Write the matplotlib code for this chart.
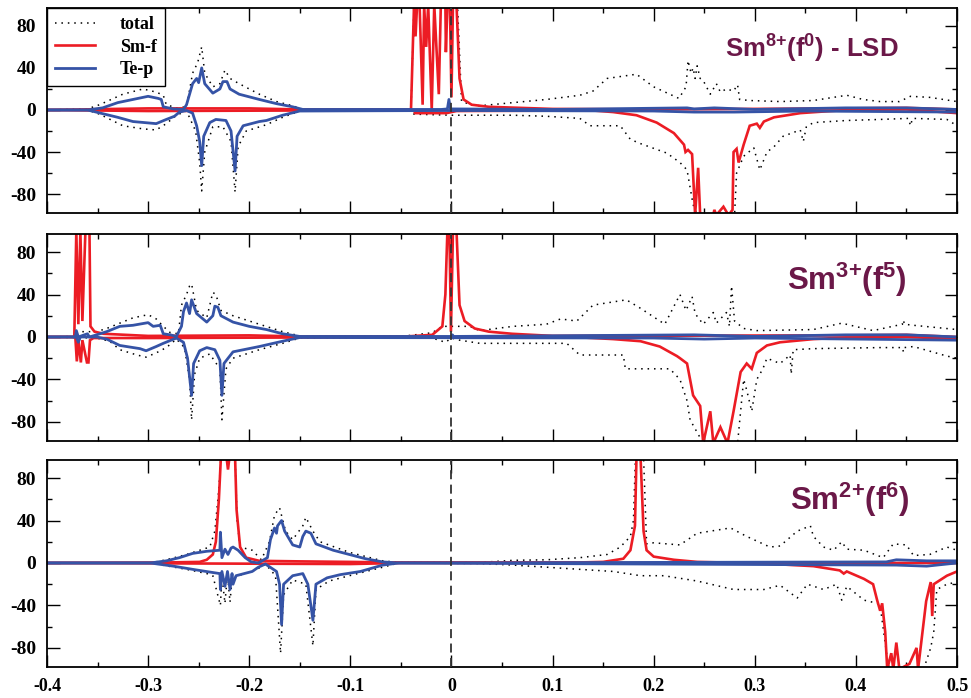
import matplotlib
matplotlib.use("Agg")
import matplotlib.pyplot as plt
from matplotlib.lines import Line2D
from matplotlib.ticker import MultipleLocator

# ---------------- data: spin-resolved DOS (up > 0, down < 0), energy in Ry ----------------
# Panel 1: Sm 8+ (f0) - LSD
p1_total_up = [(-0.40, 0), (-0.36, 1), (-0.348, 5), (-0.325, 15), (-0.305, 20), (-0.292, 17), (-0.285, 14),
               (-0.282, 5), (-0.272, 2), (-0.262, 3), (-0.256, 35), (-0.251, 45), (-0.247, 60), (-0.244, 35),
               (-0.236, 22), (-0.229, 25), (-0.224, 38), (-0.219, 30), (-0.21, 25), (-0.19, 15), (-0.173, 8),
               (-0.157, 4), (-0.147, 0.5), (-0.04, 0.5), (-0.037, 100), (0.006, 100), (0.01, 8), (0.02, 5),
               (0.028, 4), (0.061, 7), (0.094, 10), (0.127, 14), (0.14, 18), (0.154, 30), (0.183, 34), (0.2, 22),
               (0.225, 11), (0.232, 22), (0.234, 47), (0.237, 35), (0.239, 40), (0.241, 30), (0.243, 42),
               (0.246, 30), (0.249, 28), (0.256, 15), (0.262, 25), (0.266, 17), (0.272, 20), (0.279, 18),
               (0.283, 24), (0.285, 10), (0.295, 9), (0.325, 8), (0.358, 9), (0.391, 14), (0.407, 10),
               (0.424, 8), (0.443, 8), (0.454, 13), (0.473, 12), (0.5, 8)]
p1_total_dn = [(-0.40, 0), (-0.36, 0), (-0.348, -4), (-0.325, -15), (-0.305, -18), (-0.292, -19), (-0.282, -13),
               (-0.272, -5), (-0.262, -1), (-0.253, -20), (-0.249, -50), (-0.247, -77), (-0.244, -40),
               (-0.236, -16), (-0.226, -16), (-0.218, -30), (-0.214, -78), (-0.211, -35), (-0.203, -20),
               (-0.183, -14), (-0.167, -7), (-0.15, -1), (-0.04, -0.5), (-0.037, -4), (0.0, -5), (0.028, -5),
               (0.061, -5), (0.094, -6), (0.127, -8), (0.137, -15), (0.167, -15), (0.177, -28), (0.187, -32),
               (0.213, -41), (0.226, -50), (0.233, -57), (0.239, -90), (0.243, -100), (0.28, -100), (0.282, -60),
               (0.289, -44), (0.299, -36), (0.305, -57), (0.312, -40), (0.319, -35), (0.328, -25), (0.345, -19),
               (0.348, -30), (0.351, -16), (0.358, -12), (0.391, -10), (0.424, -9), (0.452, -8), (0.454, -15),
               (0.456, -8), (0.490, -9), (0.5, -15)]
p1_smf_up = [(-0.40, 0), (-0.30, 1.5), (-0.2, 1.5), (-0.15, 0.5), (-0.04, 0.5), (-0.037, 100), (-0.0355, 70),
             (-0.034, 100), (-0.0315, 100), (-0.0285, 5), (-0.027, 100), (-0.025, 60), (-0.023, 100),
             (-0.0195, 0), (-0.017, 100), (-0.0125, 15), (-0.0105, 100), (-0.006, 100), (-0.0055, 55),
             (-0.004, 100), (-0.0015, 100), (0.0, 12), (0.0015, 100), (0.005, 100), (0.008, 30), (0.012, 10),
             (0.02, 5), (0.037, 3), (0.1, 1), (0.2, 0.5), (0.39, 1.5), (0.45, 2), (0.5, 0.5)]
p1_smf_dn = [(-0.40, 0), (-0.3, -1), (-0.15, -0.5), (-0.037, -0.5), (-0.036, -3), (-0.005, -3), (0.005, -1),
             (0.14, -0.5), (0.16, -2), (0.183, -5), (0.203, -12), (0.22, -22), (0.23, -33), (0.2315, -40),
             (0.234, -38), (0.238, -42), (0.241, -100), (0.244, -55), (0.246, -100), (0.259, -100),
             (0.260, -95), (0.262, -100), (0.269, -92), (0.274, -100), (0.278, -95), (0.279, -40),
             (0.282, -37), (0.284, -50), (0.289, -33), (0.295, -15), (0.302, -13), (0.305, -17), (0.309, -11),
             (0.319, -7), (0.332, -5), (0.345, -3), (0.36, -2), (0.391, 0), (0.45, 0.5), (0.5, -3)]
p1_tep_up = [(-0.40, 0), (-0.36, 0), (-0.345, 2), (-0.33, 7), (-0.315, 10), (-0.30, 13), (-0.29, 11),
             (-0.287, 10), (-0.285, 3), (-0.275, 1), (-0.265, 0.5), (-0.262, 5), (-0.256, 25), (-0.252, 30),
             (-0.250, 26), (-0.247, 40), (-0.244, 25), (-0.236, 16), (-0.229, 20), (-0.226, 27), (-0.222, 27),
             (-0.219, 20), (-0.21, 15), (-0.19, 10), (-0.173, 6), (-0.157, 3), (-0.147, 0.5), (-0.01, 0.5),
             (-0.004, 1), (-0.0025, 10), (-0.001, 1), (0.1, 0.5), (0.233, 2), (0.24, 1), (0.26, 2), (0.3, 0.5),
             (0.39, 2), (0.45, 2), (0.5, 0.5)]
p1_tep_dn = [(-0.40, 0), (-0.36, 0), (-0.33, -7), (-0.315, -11), (-0.292, -13), (-0.282, -9), (-0.274, -6),
             (-0.269, -2), (-0.262, -0.5), (-0.256, -3), (-0.252, -15), (-0.249, -30), (-0.247, -53),
             (-0.245, -25), (-0.239, -12), (-0.233, -9), (-0.223, -10), (-0.218, -20), (-0.214, -58),
             (-0.212, -25), (-0.206, -15), (-0.19, -11), (-0.183, -10), (-0.167, -5), (-0.15, -1), (0.0, -0.5),
             (0.2, -1), (0.24, -2), (0.28, -2), (0.35, -1), (0.5, -2)]

# Panel 2: Sm 3+ (f5)
p2_total_up = [(-0.40, 0), (-0.372, 0.5), (-0.370, 5), (-0.351, 5), (-0.341, 8), (-0.315, 18), (-0.300, 21),
               (-0.292, 17), (-0.285, 10), (-0.278, 4), (-0.270, 3), (-0.267, 30), (-0.262, 40), (-0.259, 48),
               (-0.257, 50), (-0.252, 25), (-0.242, 18), (-0.236, 42), (-0.233, 40), (-0.228, 25), (-0.216, 20),
               (-0.19, 12), (-0.167, 5), (-0.15, 1), (-0.045, 1), (-0.019, 4), (-0.009, 10), (0.018, 10),
               (0.028, 6), (0.061, 10), (0.094, 12), (0.108, 17), (0.124, 15), (0.14, 30), (0.173, 35),
               (0.187, 27), (0.211, 12), (0.226, 40), (0.232, 25), (0.238, 38), (0.241, 22), (0.249, 12),
               (0.259, 23), (0.262, 13), (0.272, 23), (0.275, 10), (0.277, 48), (0.280, 15), (0.289, 8),
               (0.302, 6), (0.358, 7), (0.386, 13), (0.417, 6), (0.446, 12), (0.447, 16), (0.448, 12),
               (0.457, 11), (0.5, 7)]
p2_total_dn = [(-0.40, 0), (-0.351, -1), (-0.338, -4), (-0.328, -12), (-0.311, -17), (-0.302, -19),
               (-0.292, -15), (-0.282, -10), (-0.272, -2), (-0.264, -10), (-0.259, -40), (-0.257, -78),
               (-0.254, -35), (-0.249, -20), (-0.239, -16), (-0.229, -30), (-0.227, -78), (-0.223, -30),
               (-0.216, -20), (-0.19, -12), (-0.167, -6), (-0.15, -1), (-0.019, -1), (-0.006, -5), (0.0, -1),
               (0.008, -3), (0.028, -6), (0.114, -6), (0.127, -17), (0.170, -17), (0.172, -30), (0.216, -30),
               (0.226, -40), (0.233, -60), (0.236, -78), (0.246, -95), (0.25, -100), (0.283, -100),
               (0.286, -70), (0.289, -40), (0.292, -50), (0.297, -70), (0.302, -40), (0.308, -30),
               (0.312, -20), (0.325, -25), (0.335, -17), (0.336, -35), (0.338, -12), (0.358, -11),
               (0.424, -10), (0.446, -10), (0.447, -14), (0.448, -10), (0.457, -9), (0.49, -18), (0.5, -20)]
p2_smf_up = [(-0.40, 0), (-0.373, 0), (-0.371, 100), (-0.369, 12), (-0.367, 100), (-0.365, 15), (-0.362, 100),
             (-0.358, 100), (-0.357, 10), (-0.353, 5), (-0.344, 3), (-0.30, 1), (-0.2, 1.5), (-0.15, 0.5),
             (-0.045, 0.5), (-0.019, 2), (-0.009, 10), (-0.006, 40), (-0.004, 100), (-0.002, 100),
             (-0.0005, 5), (0.0015, 100), (0.005, 100), (0.008, 30), (0.013, 15), (0.023, 8), (0.037, 5),
             (0.06, 3), (0.1, 1), (0.39, 1.5), (0.45, 2), (0.5, 0)]
p2_smf_dn = [(-0.40, 0), (-0.372, 0), (-0.3705, -23), (-0.369, -3), (-0.3665, -24), (-0.365, -3),
             (-0.3605, -24), (-0.359, -24), (-0.3575, -3), (-0.354, -1), (-0.3, -1), (-0.15, -0.5), (0.0, -0.5),
             (0.13, -0.5), (0.160, -2), (0.187, -4), (0.206, -9), (0.223, -18), (0.226, -20), (0.233, -25),
             (0.236, -40), (0.239, -55), (0.246, -65), (0.249, -100), (0.256, -70), (0.259, -100),
             (0.266, -85), (0.273, -100), (0.279, -70), (0.286, -33), (0.292, -25), (0.297, -30), (0.302, -15),
             (0.312, -8), (0.325, -5), (0.358, -2), (0.39, -0.5), (0.45, 0), (0.5, -2)]
p2_tep_up = [(-0.40, 0), (-0.372, 0), (-0.371, 6), (-0.369, 0), (-0.360, 3), (-0.358, 0), (-0.351, 2),
             (-0.341, 5), (-0.328, 10), (-0.315, 11), (-0.300, 13.5), (-0.295, 10), (-0.288, 11), (-0.285, 3),
             (-0.278, 2), (-0.272, 0.5), (-0.267, 10), (-0.265, 24), (-0.262, 32), (-0.259, 22), (-0.257, 35),
             (-0.252, 22), (-0.242, 14), (-0.236, 20), (-0.234, 29), (-0.231, 28), (-0.228, 20), (-0.216, 14),
             (-0.2, 10), (-0.183, 7), (-0.167, 3), (-0.15, 0.5), (0.0, 0.5), (0.001, 2), (0.002, 0.5),
             (0.24, 2), (0.26, 1.5), (0.3, 0.5), (0.39, 2), (0.45, 2), (0.5, 0)]
p2_tep_dn = [(-0.40, 0), (-0.371, 0), (-0.369, -5), (-0.367, 0), (-0.351, 0), (-0.341, -2), (-0.328, -8),
             (-0.308, -11), (-0.302, -13), (-0.292, -9), (-0.285, -6), (-0.272, -1), (-0.265, -5),
             (-0.261, -20), (-0.257, -55), (-0.255, -25), (-0.249, -13), (-0.242, -10), (-0.234, -12),
             (-0.229, -22), (-0.227, -55), (-0.225, -25), (-0.216, -14), (-0.19, -9), (-0.167, -4),
             (-0.15, -0.5), (0.2, -1), (0.25, -2), (0.3, -1), (0.5, -3)]

# Panel 3: Sm 2+ (f6)
p3_total_up = [(-0.40, 0), (-0.298, 0), (-0.282, 3), (-0.262, 8), (-0.239, 15), (-0.234, 30), (-0.230, 70),
               (-0.228, 100), (-0.214, 100), (-0.212, 40), (-0.209, 15), (-0.197, 12), (-0.188, 3),
               (-0.180, 20), (-0.175, 45), (-0.170, 52), (-0.164, 30), (-0.157, 22), (-0.147, 35),
               (-0.144, 43), (-0.137, 30), (-0.130, 20), (-0.101, 10), (-0.068, 2), (-0.052, 0.5), (0.028, 0.5),
               (0.061, 2.5), (0.094, 3), (0.127, 5), (0.154, 8), (0.167, 15), (0.177, 25), (0.180, 40),
               (0.182, 100), (0.190, 100), (0.193, 18), (0.2, 19), (0.226, 17), (0.243, 28), (0.276, 33),
               (0.292, 25), (0.315, 15), (0.325, 16), (0.342, 30), (0.355, 35), (0.358, 25), (0.368, 15),
               (0.378, 12), (0.386, 20), (0.391, 13), (0.408, 12), (0.427, 5), (0.437, 18), (0.45, 17),
               (0.457, 7), (0.473, 8), (0.49, 15), (0.5, 12)]
p3_total_dn = [(-0.40, 0), (-0.298, 0), (-0.262, -6), (-0.242, -10), (-0.236, -12), (-0.2285, -40),
               (-0.227, -12), (-0.224, -38), (-0.2215, -10), (-0.219, -37), (-0.217, -15), (-0.211, -12),
               (-0.194, -7), (-0.184, -1), (-0.174, -12), (-0.169, -85), (-0.166, -30), (-0.157, -16),
               (-0.144, -20), (-0.137, -78), (-0.134, -25), (-0.121, -17), (-0.101, -12), (-0.068, -4),
               (-0.052, 0), (0.028, -0.5), (0.061, -2), (0.094, -4), (0.127, -6), (0.160, -8), (0.187, -12),
               (0.21, -12), (0.243, -17), (0.279, -25), (0.309, -25), (0.325, -21), (0.342, -33), (0.352, -20),
               (0.368, -25), (0.381, -20), (0.386, -35), (0.391, -22), (0.408, -35), (0.421, -38), (0.424, -40),
               (0.431, -90), (0.433, -100), (0.467, -100), (0.474, -80), (0.477, -65), (0.480, -25),
               (0.49, -20), (0.5, -18)]
p3_smf_up = [(-0.40, 0), (-0.28, 0.5), (-0.249, 1), (-0.242, 3), (-0.236, 8), (-0.233, 20), (-0.230, 60),
             (-0.228, 100), (-0.2225, 100), (-0.221, 88), (-0.2195, 100), (-0.214, 100), (-0.2125, 50),
             (-0.209, 15), (-0.203, 5), (-0.190, 2), (-0.15, 1.5), (-0.1, 1), (-0.06, 0.5), (0.127, 0.5),
             (0.15, 1), (0.17, 4), (0.177, 12), (0.1815, 35), (0.183, 100), (0.187, 100), (0.190, 30),
             (0.193, 12), (0.2, 6), (0.22, 3), (0.243, 1), (0.292, 0), (0.5, 0)]
p3_smf_dn = [(-0.40, 0), (-0.25, -0.5), (-0.1, -1), (-0.05, 0), (0.3, 0), (0.338, -2), (0.358, -3),
             (0.384, -7), (0.388, -10), (0.391, -8), (0.408, -15), (0.417, -20), (0.421, -35), (0.424, -45),
             (0.426, -38), (0.429, -65), (0.431, -100), (0.435, -85), (0.437, -100), (0.440, -75),
             (0.443, -100), (0.453, -95), (0.460, -80), (0.4615, -100), (0.4695, -36), (0.474, -18),
             (0.4755, -50), (0.477, -20), (0.490, -12), (0.5, -8)]
p3_tep_up = [(-0.40, 0), (-0.298, 0), (-0.282, 2), (-0.269, 5), (-0.256, 9), (-0.242, 11), (-0.229, 12),
             (-0.2285, 29), (-0.227, 5), (-0.224, 13), (-0.221, 8), (-0.218, 14), (-0.216, 15), (-0.211, 12),
             (-0.204, 5), (-0.198, 1), (-0.191, 0), (-0.182, 5), (-0.179, 22), (-0.175, 33), (-0.173, 28),
             (-0.172, 35), (-0.168, 40), (-0.165, 30), (-0.157, 17), (-0.150, 15), (-0.147, 25), (-0.144, 30),
             (-0.139, 28), (-0.134, 18), (-0.117, 12), (-0.101, 8), (-0.085, 4), (-0.068, 1), (-0.052, 0),
             (0.43, 1), (0.44, 3), (0.47, 2), (0.5, 2)]
p3_tep_dn = [(-0.40, 0), (-0.298, 0), (-0.275, -3), (-0.256, -6), (-0.236, -9), (-0.229, -10),
             (-0.2285, -25), (-0.227, -8), (-0.224, -22), (-0.2215, -8), (-0.219, -25), (-0.217, -10),
             (-0.216, -20), (-0.213, -12), (-0.197, -8), (-0.191, -4), (-0.184, -1), (-0.173, -8),
             (-0.170, -20), (-0.168, -58), (-0.166, -20), (-0.157, -12), (-0.147, -10), (-0.142, -20),
             (-0.137, -54), (-0.134, -20), (-0.123, -14), (-0.11, -11), (-0.09, -8), (-0.068, -2),
             (-0.052, 0), (0.44, -2), (0.47, -3), (0.5, 0)]

panel_titles = [r"Sm$^{8{+}}$(f$^{0}$) - LSD", r"Sm$^{3{+}}$(f$^{5}$)", r"Sm$^{2{+}}$(f$^{6}$)"]
legend_labels = ["total", "Sm-f", "Te-p"]
x_ticks = [-0.4, -0.3, -0.2, -0.1, 0, 0.1, 0.2, 0.3, 0.4, 0.5]
x_tick_labels = ["-0.4", "-0.3", "-0.2", "-0.1", "0", "0.1", "0.2", "0.3", "0.4", "0.5"]
y_ticks = [-80, -40, 0, 40, 80]

panels = [
    (p1_total_up, p1_total_dn, p1_smf_up, p1_smf_dn, p1_tep_up, p1_tep_dn),
    (p2_total_up, p2_total_dn, p2_smf_up, p2_smf_dn, p2_tep_up, p2_tep_dn),
    (p3_total_up, p3_total_dn, p3_smf_up, p3_smf_dn, p3_tep_up, p3_tep_dn),
]

# ---------------- styling ----------------
plt.rcParams["mathtext.default"] = "regular"
RED = "#ec1c24"
BLUE = "#3553a6"
TITLE_COLOR = "#6b1848"
ytick_font = dict(family="Liberation Serif", weight="bold", size=14)
xtick_font = dict(family="Liberation Serif", weight="bold", size=13)

fig = plt.figure(figsize=(9.71, 6.98), dpi=100)
W, H = 971.0, 698.0
boxes = [(8, 213), (234, 441), (460, 667)]
left_px, right_px = 47, 957
title_pos = [(0.745, 0.756, 18.5), (0.813, 0.729, 22.5), (0.816, 0.758, 22.5)]


def xy(points):
    return [p[0] for p in points], [p[1] for p in points]


for i, (top, bot) in enumerate(boxes):
    ax = fig.add_axes([left_px / W, 1 - bot / H, (right_px - left_px) / W, (bot - top) / H])
    tot_up, tot_dn, f_up, f_dn, p_up, p_dn = panels[i]

    for curve in (tot_up, tot_dn):
        ax.plot(*xy(curve), color="black", lw=1.1, ls=(0, (1, 3.2)))
    for curve in (f_up, f_dn):
        ax.plot(*xy(curve), color=RED, lw=1.9, solid_joinstyle="miter")
    for curve in (p_up, p_dn):
        ax.plot(*xy(curve), color=BLUE, lw=2.0)

    ax.axvline(0, color="#333333", lw=1.3, ls=(0, (5, 3)), zorder=5)

    ax.set_xlim(-0.4, 0.5)
    ax.set_ylim(-98, 97)
    ax.set_xticks(x_ticks)
    ax.xaxis.set_minor_locator(MultipleLocator(0.05))
    ax.set_yticks(y_ticks)
    ax.yaxis.set_minor_locator(MultipleLocator(20))
    ax.tick_params(which="both", direction="in", top=True, right=True, width=1.0, color="black")
    ax.tick_params(which="major", length=9)
    ax.tick_params(which="minor", length=3.5)
    ax.tick_params(axis="y", which="major", pad=8)
    ax.tick_params(axis="x", which="major", pad=8)
    for s in ax.spines.values():
        s.set_linewidth(1.3)

    ax.set_yticklabels([str(v) for v in y_ticks], fontdict=ytick_font)
    if i == 2:
        ax.set_xticklabels(x_tick_labels, fontdict=xtick_font)
    else:
        ax.set_xticklabels([])

    tx, ty, ts = title_pos[i]
    ax.text(tx, ty, panel_titles[i], transform=ax.transAxes, ha="left", va="baseline",
            color=TITLE_COLOR, fontsize=ts, fontweight="bold", family="Liberation Sans")

    if i == 0:
        handles = [
            Line2D([], [], color="black", lw=1.1, ls=(0, (1, 3.2))),
            Line2D([], [], color=RED, lw=1.9),
            Line2D([], [], color=BLUE, lw=2.0),
        ]
        leg = ax.legend(handles, legend_labels, loc="upper left", bbox_to_anchor=(0, 1),
                        borderaxespad=0, fancybox=False, framealpha=1, edgecolor="black",
                        prop=dict(family="Liberation Serif", weight="bold", size=13),
                        handlelength=2.2, handletextpad=1.4, labelspacing=0.3, borderpad=0.45)
        leg.get_frame().set_linewidth(1.0)

fig.savefig("out.png", dpi=100)
